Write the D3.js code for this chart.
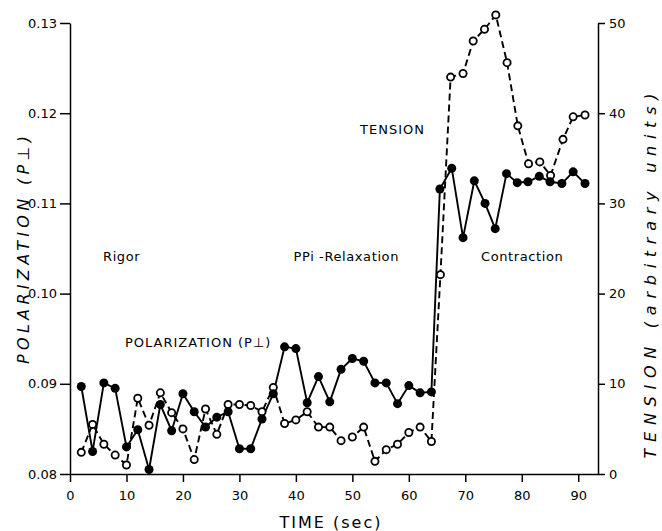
<!DOCTYPE html>
<html>
<head>
<meta charset="utf-8">
<style>
    body { margin: 0; background: #fff; }
    svg { display: block; }
    .chart text { font-family: "DejaVu Sans", sans-serif; fill: #000; }
    .chart .axis path, .chart .axis line { stroke: #000; stroke-width: 1.5; }
    .chart .axis text { font-size: 13px; }
    .chart .note { font-size: 13px; letter-spacing: 0.6px; }
    .chart .title { font-size: 16px; font-style: italic; }
</style>
</head>
<body>
<svg class="chart" width="662" height="531"></svg>
<script src="https://d3js.org/d3.v7.min.js"></script>
<script>
// polarization (filled circles, solid line)
var polTime = [2, 4, 6, 8, 10, 12, 14, 16, 18, 20, 22, 24, 26, 28, 30, 32, 34, 36, 38, 40,
               42, 44, 46, 48, 50, 52, 54, 56, 58, 60, 62, 64,
               65.5, 67.6, 69.6, 71.6, 73.5, 75.3, 77.3, 79.2, 81.1, 83.1, 85.0, 87.1, 89.1, 91.2];
var polValue = [0.0897, 0.0825, 0.0901, 0.0895, 0.0830, 0.0849, 0.0805, 0.0877, 0.0848, 0.0889,
                0.0869, 0.0852, 0.0863, 0.0869, 0.0828, 0.0828, 0.0861, 0.0889, 0.0941, 0.0939,
                0.0879, 0.0908, 0.0880, 0.0916, 0.0928, 0.0925, 0.0901, 0.0901, 0.0878, 0.0898,
                0.0890, 0.0891,
                0.1116, 0.1139, 0.1062, 0.1125, 0.1100, 0.1072, 0.1133, 0.1123, 0.1124, 0.1130,
                0.1124, 0.1122, 0.1135, 0.1122];

// tension (open circles, dashed line)
var tenTime = [2, 4, 6, 8, 10, 12, 14, 16, 18, 20, 22, 24, 26, 28, 30, 32, 34, 36, 38, 40,
               42, 44, 46, 48, 50, 52, 54, 56, 58, 60, 62, 64,
               65.6, 67.4, 69.6, 71.4, 73.4, 75.4, 77.4, 79.3, 81.2, 83.2, 85.1, 87.3, 89.1, 91.2];
var tenValue = [2.4, 5.5, 3.3, 2.1, 1.0, 8.4, 5.4, 9.0, 6.8, 5.0,
                1.6, 7.2, 4.4, 7.7, 7.7, 7.6, 6.9, 9.6, 5.6, 6.0,
                6.9, 5.2, 5.2, 3.7, 4.1, 5.2, 1.4, 2.7, 3.3, 4.6,
                5.2, 3.6,
                22.1, 44.0, 44.4, 48.0, 49.3, 50.9, 45.6, 38.6, 34.4, 34.6,
                33.1, 37.1, 39.6, 39.8];

var timeTicks = [0, 10, 20, 30, 40, 50, 60, 70, 80, 90];
var polTicks = [0.08, 0.09, 0.10, 0.11, 0.12, 0.13];
var tensionTicks = [0, 10, 20, 30, 40, 50];

var chart = d3.select('.chart');

var xScale = d3.scaleLinear().domain([0, 93.5]).range([70, 598]);
var yPol = d3.scaleLinear().domain([0.08, 0.13]).range([474, 23]);
var yTen = d3.scaleLinear().domain([0, 50]).range([474, 23]);

var polData = polTime.map(function(t, i) { return {t: t, v: polValue[i]}; });
var tenData = tenTime.map(function(t, i) { return {t: t, v: tenValue[i]}; });

// axes
chart.append('g').attr('class', 'axis')
    .attr('transform', 'translate(0,474)')
    .call(d3.axisBottom(xScale).tickValues(timeTicks).tickSize(8).tickPadding(9).tickSizeOuter(0));

chart.append('g').attr('class', 'axis')
    .attr('transform', 'translate(70,0)')
    .call(d3.axisLeft(yPol).tickValues(polTicks).tickFormat(d3.format('.2f'))
        .tickSize(10).tickPadding(3).tickSizeOuter(0));

chart.append('g').attr('class', 'axis')
    .attr('transform', 'translate(598,0)')
    .call(d3.axisRight(yTen).tickValues(tensionTicks).tickSize(7).tickPadding(4).tickSizeOuter(0));

chart.selectAll('.axis .domain').attr('stroke-width', 1.6);

// lines
var tenLine = d3.line().x(function(d) { return xScale(d.t); }).y(function(d) { return yTen(d.v); });
var polLine = d3.line().x(function(d) { return xScale(d.t); }).y(function(d) { return yPol(d.v); });

chart.append('path').datum(tenData)
    .attr('d', tenLine)
    .attr('fill', 'none').attr('stroke', '#000').attr('stroke-width', 1.9)
    .attr('stroke-dasharray', '7,4');

chart.append('path').datum(polData)
    .attr('d', polLine)
    .attr('fill', 'none').attr('stroke', '#000').attr('stroke-width', 1.9);

chart.selectAll('.open').data(tenData).enter().append('circle')
    .attr('class', 'open')
    .attr('cx', function(d) { return xScale(d.t); })
    .attr('cy', function(d) { return yTen(d.v); })
    .attr('r', 3.6)
    .attr('fill', '#fff').attr('stroke', '#000').attr('stroke-width', 1.8);

chart.selectAll('.filled').data(polData).enter().append('circle')
    .attr('class', 'filled')
    .attr('cx', function(d) { return xScale(d.t); })
    .attr('cy', function(d) { return yPol(d.v); })
    .attr('r', 4.5)
    .attr('fill', '#000');

// annotations
chart.append('text').attr('class', 'note').attr('x', 103).attr('y', 261).text('Rigor');
chart.append('text').attr('class', 'note').attr('x', 399).attr('y', 261)
    .style('text-anchor', 'end').text('PPi -Relaxation');
chart.append('text').attr('class', 'note').attr('x', 481).attr('y', 261).text('Contraction');
chart.append('text').attr('class', 'note').attr('x', 360).attr('y', 134)
    .style('letter-spacing', '1px').text('TENSION');
chart.append('text').attr('class', 'note').attr('x', 125).attr('y', 347)
    .style('letter-spacing', '1px').text('POLARIZATION (P\u22A5)');

// axis titles
chart.append('text')
    .attr('x', 331).attr('y', 528)
    .style('font-size', '16px').style('letter-spacing', '2px')
    .style('text-anchor', 'middle')
    .text('TIME (sec)');

chart.append('text').attr('class', 'title')
    .attr('transform', 'translate(29,250) rotate(-90)')
    .attr('textLength', 228).attr('lengthAdjust', 'spacing')
    .style('text-anchor', 'middle')
    .text('POLARIZATION (P\u22A5)');

chart.append('text').attr('class', 'title')
    .attr('transform', 'translate(656,276) rotate(-90)')
    .attr('textLength', 365).attr('lengthAdjust', 'spacing')
    .style('text-anchor', 'middle')
    .text('TENSION (arbitrary units)');
</script>
</body>
</html>
